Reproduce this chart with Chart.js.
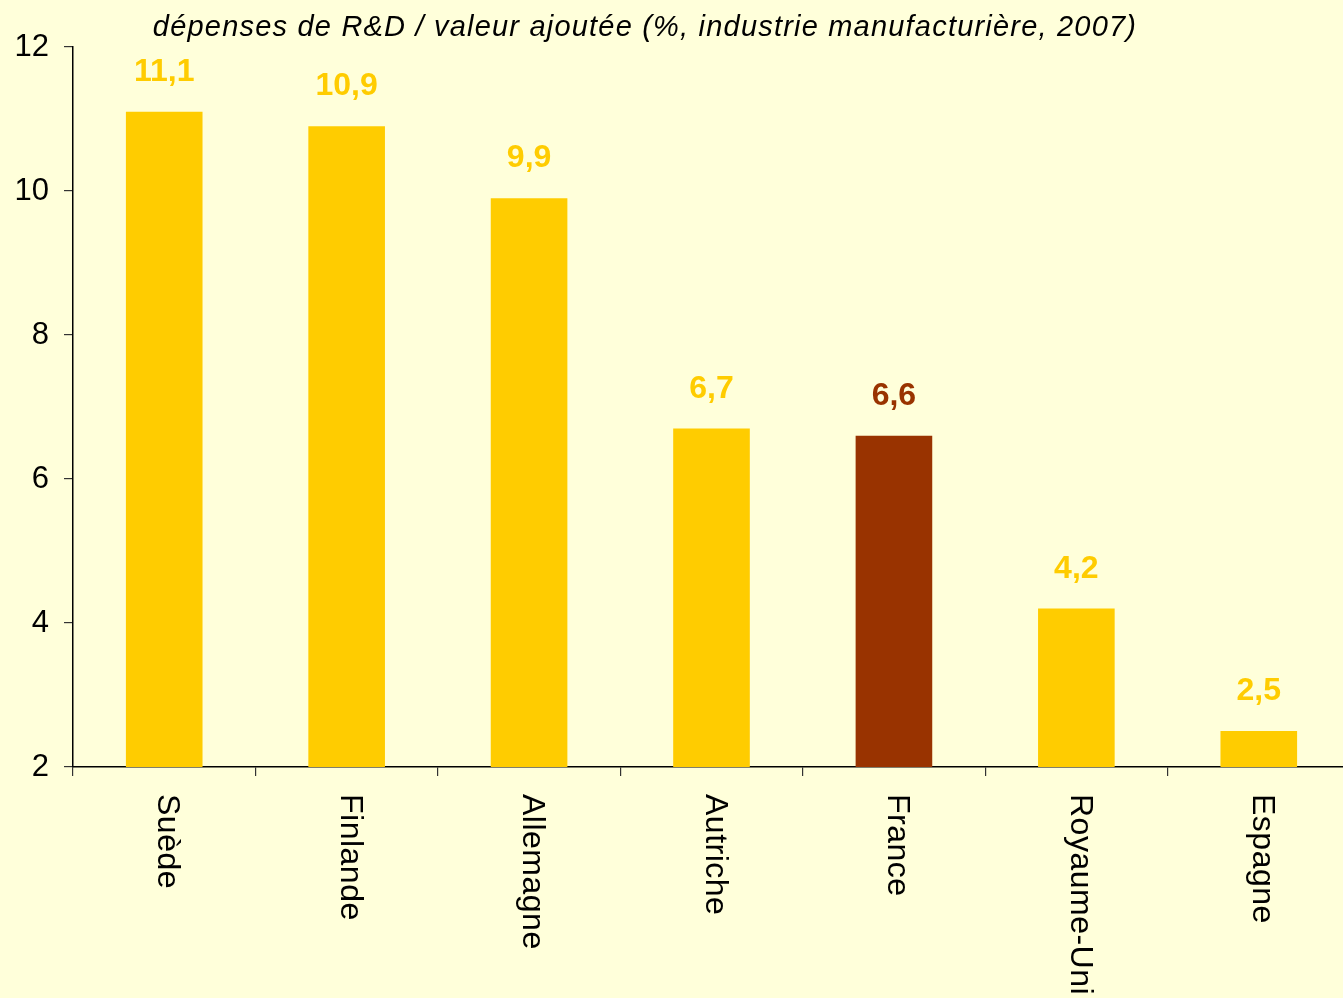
<!DOCTYPE html>
<html>
<head>
<meta charset="utf-8">
<script src="https://cdn.jsdelivr.net/npm/chart.js@4.4.1/dist/chart.umd.min.js"></script>
<style>
html,body{margin:0;padding:0;background:#FFFFDA;overflow:hidden;}
#wrap{width:1343px;height:998px;position:relative;overflow:hidden;}
</style>
</head>
<body>
<div id="wrap"><canvas id="c" width="1350" height="998"></canvas></div>
<script>
const titleText = "dépenses de R&D / valeur ajoutée (%, industrie manufacturière, 2007)";
const categories = ["Suède","Finlande","Allemagne","Autriche","France","Royaume-Uni","Espagne"];
const values = [11.1, 10.9, 9.9, 6.7, 6.6, 4.2, 2.5];
const yTicks = [2, 4, 6, 8, 10, 12];
const highlight = "France";

const GOLD = "#FFCC00", BROWN = "#993300", BG = "#FFFFDA";
const FONT = "'Liberation Sans', Arial, sans-serif";
const barColors = categories.map(c => c === highlight ? BROWN : GOLD);

const bgPlugin = {
  id: 'bg',
  beforeDraw(chart) {
    const ctx = chart.ctx;
    ctx.save();
    ctx.fillStyle = BG;
    ctx.fillRect(0, 0, chart.width, chart.height);
    ctx.restore();
  }
};

const labelsPlugin = {
  id: 'customLabels',
  afterDraw(chart) {
    const ctx = chart.ctx;
    const xs = chart.scales.x;
    const meta = chart.getDatasetMeta(0);
    ctx.save();
    // title
    ctx.fillStyle = "#000";
    ctx.font = "italic 29px " + FONT;
    ctx.letterSpacing = "1.2px";
    ctx.textAlign = "center";
    ctx.textBaseline = "alphabetic";
    ctx.fillText(titleText, 645, 36);
    ctx.letterSpacing = "0px";
    // value labels
    ctx.font = "bold 32px " + FONT;
    meta.data.forEach((bar, i) => {
      ctx.fillStyle = barColors[i];
      ctx.fillText(values[i].toFixed(1).replace('.', ','), bar.x, bar.y - 31);
    });
    // rotated category labels
    ctx.font = "32px " + FONT;
    ctx.letterSpacing = "0.5px";
    ctx.fillStyle = "#000";
    ctx.textAlign = "left";
    ctx.textBaseline = "middle";
    categories.forEach((c, i) => {
      const x = xs.getPixelForValue(i) + 3;
      ctx.save();
      ctx.translate(x, 794);
      ctx.rotate(Math.PI / 2);
      ctx.fillText(c, 0, 0);
      ctx.restore();
    });
    ctx.restore();
  }
};

new Chart(document.getElementById('c'), {
  type: 'bar',
  data: {
    labels: categories,
    datasets: [{
      data: values,
      backgroundColor: barColors,
      borderWidth: 0,
      barPercentage: 0.42,
      categoryPercentage: 1.0
    }]
  },
  options: {
    responsive: false,
    animation: false,
    layout: { padding: { top: 47, left: 0, right: 0, bottom: 0 } },
    plugins: { legend: { display: false }, tooltip: { enabled: false }, title: { display: false } },
    scales: {
      x: {
        grid: { display: true, drawOnChartArea: false, drawTicks: true, tickLength: 9, color: "#333", lineWidth: 1.2, offset: true },
        border: { display: true, color: "#000", width: 1.5 },
        ticks: { display: false },
        afterFit(scale) { scale.height = 231; }
      },
      y: {
        min: 2, max: 12,
        afterBuildTicks(scale) { scale.ticks = yTicks.map(v => ({ value: v })); },
        grid: { display: true, drawOnChartArea: false, drawTicks: true, tickLength: 9, color: "#333", lineWidth: 1.2 },
        border: { display: true, color: "#000", width: 1.5 },
        ticks: { color: "#000", font: { family: FONT, size: 31 }, padding: 15 },
        afterFit(scale) { scale.width = 73; }
      }
    }
  },
  plugins: [bgPlugin, labelsPlugin]
});
</script>
</body>
</html>
